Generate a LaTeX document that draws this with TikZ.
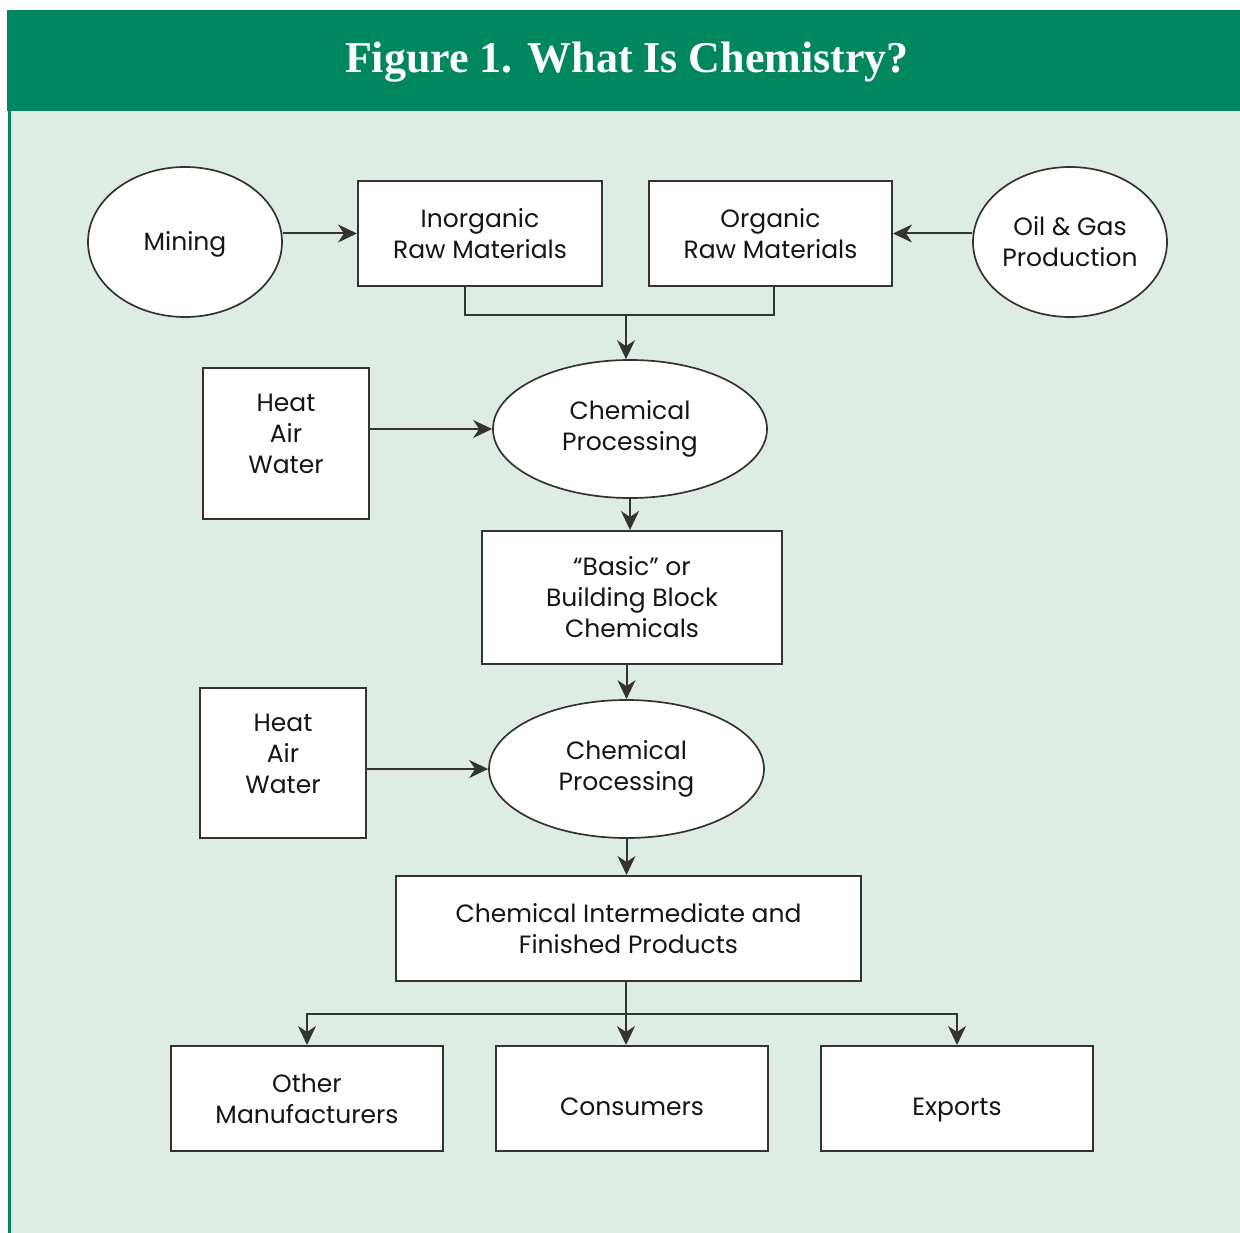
\documentclass[tikz,border=0pt]{standalone}
\usepackage{fontspec}
\setmainfont{Poppins}
\newfontfamily\titlefont{Liberation Serif}
\usetikzlibrary{arrows.meta,shapes.geometric,calc}
\definecolor{hdr}{HTML}{00875F}
\definecolor{bgl}{HTML}{DDEDE3}
\definecolor{ln}{HTML}{333333}
\definecolor{txt}{HTML}{151515}
\begin{document}
\begin{tikzpicture}[x=1pt,y=-1pt,
  lbl/.style={font=\fontsize{25}{31}\selectfont,text=txt,align=center},
  lower/.style={execute at begin node={\rule{0pt}{#1}}},
  box/.style={lbl,draw=ln,line width=2pt,fill=white,rectangle,inner sep=0pt},
  ell/.style={lbl,draw=ln,line width=1.7pt,fill=white,ellipse,inner sep=0pt},
  conn/.style={draw=ln,line width=2pt},
  arr/.style={conn,-{Stealth[length=19pt,width=18pt,inset=6pt]}}]
\useasboundingbox (0,0) rectangle (1240,1233);
% background
\fill[white] (0,0) rectangle (1240,1233);
\fill[bgl] (8,111) rectangle (1240,1233);
\fill[hdr] (7,10) rectangle (1240,111);
\draw[hdr,line width=3pt] (9.5,111) -- (9.5,1233);
\node[font=\titlefont\bfseries\fontsize{44}{52}\selectfont,text=white] (title) at (627,62) {Figure 1. What Is Chemistry?};
% top row
\node[ell,minimum width=194pt,minimum height=150pt,text height=18pt,text depth=0pt] (mining) at (185,242) {Mining};
\node[box,minimum width=244pt,minimum height=105pt] (inorg) at (480,233.5) {Inorganic\\Raw Materials};
\node[box,lower=23pt,minimum width=243pt,minimum height=105pt] (org) at (770.5,233.5) {Organic\\Raw Materials};
\node[ell,minimum width=194pt,minimum height=150pt] (oil) at (1070,242) {Oil \& Gas\\Production};
% middle
\node[ell,lower=27pt,minimum width=274pt,minimum height=138pt] (cp1) at (630,429) {Chemical\\Processing};
\node[box,minimum width=166pt,minimum height=151pt] (heat1) at (286,443.5) {};
\node[lbl] (heat1t) at (286,434) {Heat\\Air\\Water};
\node[box,minimum width=300pt,minimum height=133pt] (basic) at (632,597.5) {“Basic” or\\Building Block\\Chemicals};
\node[ell,lower=23pt,minimum width=275pt,minimum height=138pt] (cp2) at (626.5,769) {Chemical\\Processing};
\node[box,minimum width=166pt,minimum height=150pt] (heat2) at (283,763) {};
\node[lbl] (heat2t) at (283,754) {Heat\\Air\\Water};
\node[box,lower=27pt,minimum width=465pt,minimum height=105pt] (final) at (628.5,928.5) {Chemical Intermediate and\\Finished Products};
% bottom row
\node[box,lower=23pt,minimum width=272pt,minimum height=105pt] (other) at (307,1098.5) {Other\\Manufacturers};
\node[box,minimum width=272pt,minimum height=105pt,text height=33pt,text depth=0pt] (cons) at (632,1098.5) {Consumers};
\node[box,minimum width=272pt,minimum height=105pt,text height=33pt,text depth=0pt] (exp) at (957,1098.5) {Exports};
% connectors
\draw[arr] (inorg.west -| mining.east) -- (inorg.west);
\draw[arr] (org.east -| oil.west) -- (org.east);
\coordinate (join) at (626,315);
\draw[conn] ([xshift=-15pt]inorg.south) |- (join) -| ([xshift=3.5pt]org.south);
\draw[arr] (join) -- (join |- cp1.north);
\draw[arr] (heat1.east |- cp1.west) -- (cp1.west);
\draw[arr] (cp1.south) -- (cp1.south |- basic.north);
\draw[arr] (cp2.north |- basic.south) -- (cp2.north);
\draw[arr] (heat2.east |- cp2.west) -- (cp2.west);
\draw[arr] (cp2.south) -- (cp2.south |- final.north);
\coordinate (split) at (626,1014);
\draw[conn] (final.south -| split) -- (split);
\draw[arr] (split) -- (split |- cons.north);
\draw[arr] (split) -| (other.north);
\draw[arr] (split) -| (exp.north);
\end{tikzpicture}
\end{document}
